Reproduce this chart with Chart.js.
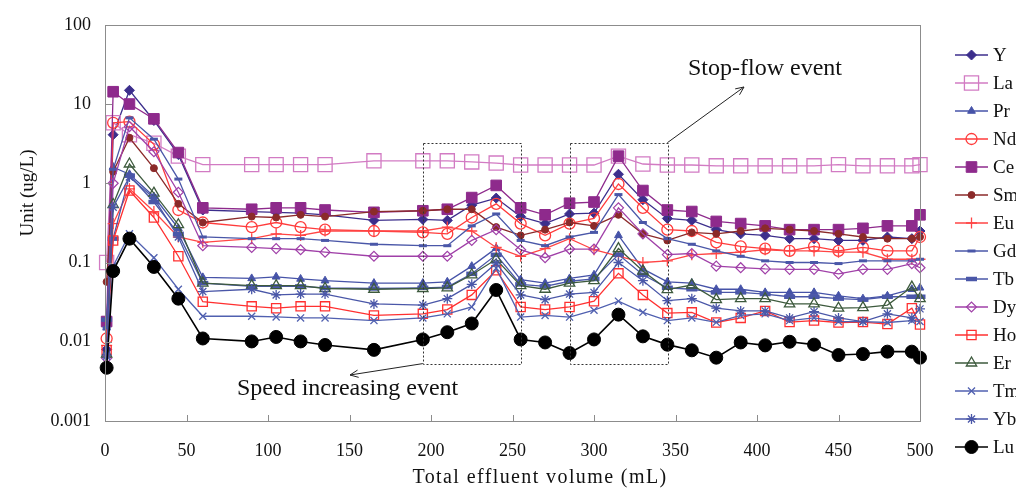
<!DOCTYPE html>
<html><head><meta charset="utf-8">
<script src="https://cdn.jsdelivr.net/npm/chart.js@4/dist/chart.umd.min.js"></script>
<style>html,body{margin:0;padding:0;background:#fff;overflow:hidden}canvas{display:block}</style>
</head><body>
<canvas id="c" width="1016" height="492"></canvas>
<script>
// ---------------- DATA ----------------
const volumes = [1,5,15,30,45,60,90,105,120,135,165,195,210,225,240,255,270,285,300,315,330,345,360,375,390,405,420,435,450,465,480,495,500];
const elements = ['Y','La','Pr','Nd','Ce','Sm','Eu','Gd','Tb','Dy','Ho','Er','Tm','Yb','Lu'];
const Y  = [0.008,4.1,14.9,6.2,2.3,0.46,0.44,0.43,0.42,0.40,0.34,0.35,0.34,0.53,0.65,0.38,0.31,0.41,0.42,1.3,0.62,0.36,0.34,0.26,0.23,0.22,0.2,0.2,0.19,0.19,0.21,0.2,0.25];
const La = [0.1,5.8,4.1,3.2,2.2,1.72,1.72,1.72,1.72,1.72,1.92,1.92,1.92,1.86,1.8,1.7,1.7,1.7,1.7,2.2,1.75,1.7,1.7,1.66,1.66,1.66,1.66,1.66,1.72,1.66,1.66,1.66,1.72];
const Pr = [0.015,1.6,1.3,0.68,0.27,0.065,0.063,0.066,0.062,0.059,0.055,0.055,0.057,0.09,0.152,0.061,0.055,0.063,0.07,0.22,0.083,0.057,0.055,0.046,0.046,0.042,0.042,0.042,0.038,0.035,0.038,0.046,0.048];
const Nd = [0.011,5.8,6.0,3.1,0.46,0.32,0.28,0.32,0.28,0.26,0.25,0.24,0.23,0.37,0.55,0.31,0.22,0.31,0.36,0.98,0.49,0.26,0.25,0.18,0.16,0.15,0.14,0.16,0.14,0.155,0.14,0.14,0.21];
const Ce = [0.018,14.3,10,6.5,2.44,0.49,0.47,0.49,0.49,0.46,0.43,0.45,0.47,0.66,0.94,0.49,0.40,0.56,0.58,2.2,0.81,0.46,0.44,0.33,0.31,0.29,0.26,0.26,0.26,0.27,0.29,0.29,0.40];
const Sm = [0.057,1.4,3.75,1.55,0.55,0.32,0.38,0.37,0.40,0.38,0.44,0.45,0.47,0.47,0.28,0.22,0.26,0.32,0.29,0.40,0.23,0.19,0.24,0.23,0.25,0.27,0.26,0.25,0.23,0.21,0.2,0.2,0.21];
const Eu = [0.009,0.31,0.85,0.44,0.21,0.18,0.2,0.23,0.22,0.25,0.25,0.25,0.28,0.25,0.155,0.12,0.15,0.2,0.145,0.12,0.1,0.105,0.125,0.13,0.135,0.145,0.14,0.14,0.135,0.135,0.11,0.11,0.11];
const Gd = [0.015,1.5,6.7,3.6,1.13,0.21,0.2,0.2,0.2,0.19,0.17,0.163,0.163,0.29,0.41,0.19,0.163,0.21,0.24,0.72,0.32,0.2,0.17,0.14,0.12,0.105,0.1,0.1,0.097,0.105,0.105,0.105,0.11];
const Tb = [0.019,0.2,1.25,0.58,0.23,0.055,0.05,0.05,0.05,0.048,0.047,0.048,0.049,0.072,0.125,0.053,0.05,0.058,0.062,0.126,0.07,0.048,0.046,0.042,0.042,0.04,0.037,0.037,0.035,0.034,0.037,0.037,0.037];
const Dy = [0.0062,1.0,5.2,2.5,0.77,0.163,0.155,0.15,0.145,0.135,0.12,0.12,0.12,0.19,0.26,0.145,0.115,0.148,0.148,0.49,0.23,0.126,0.13,0.09,0.086,0.083,0.082,0.082,0.072,0.082,0.082,0.097,0.086];
const Ho = [0.0078,0.19,0.81,0.37,0.12,0.032,0.028,0.0265,0.028,0.028,0.0215,0.0225,0.0255,0.039,0.08,0.0275,0.0255,0.0275,0.0325,0.073,0.039,0.023,0.0235,0.0175,0.02,0.0245,0.0177,0.0185,0.0175,0.0177,0.0167,0.0265,0.0165];
const Er = [0.007,0.54,1.75,0.75,0.30,0.055,0.051,0.051,0.051,0.047,0.046,0.047,0.048,0.07,0.11,0.051,0.046,0.055,0.059,0.15,0.078,0.0455,0.052,0.034,0.035,0.035,0.030,0.030,0.0265,0.027,0.029,0.049,0.035];
const Tm = [0.0065,0.09,0.23,0.115,0.046,0.021,0.021,0.0206,0.020,0.020,0.0185,0.020,0.0225,0.0275,0.085,0.0205,0.0215,0.0205,0.025,0.0325,0.0235,0.0185,0.02,0.0176,0.0215,0.0225,0.0185,0.020,0.018,0.018,0.0175,0.0185,0.018];
const Yb = [0.0068,0.5,1.2,0.65,0.21,0.043,0.046,0.039,0.040,0.040,0.030,0.029,0.035,0.053,0.098,0.039,0.034,0.04,0.042,0.1,0.059,0.033,0.035,0.0265,0.0245,0.0245,0.020,0.024,0.02,0.018,0.0225,0.02,0.026];
const Lu = [0.0047,0.078,0.2,0.088,0.035,0.011,0.0101,0.0115,0.0101,0.0091,0.0079,0.0107,0.0132,0.017,0.045,0.0107,0.0098,0.0072,0.0107,0.022,0.0117,0.0092,0.0078,0.0063,0.0098,0.009,0.01,0.0092,0.0068,0.007,0.0075,0.0075,0.0063];

const yTicks = [0.001,0.01,0.1,1,10,100];
const yTickLabels = ['0.001','0.01','0.1','1','10','100'];
const xTicks = [0,50,100,150,200,250,300,350,400,450,500];
const xTickLabels = ['0','50','100','150','200','250','300','350','400','450','500'];
const xTitle = 'Total effluent volume (mL)';
const yTitle = 'Unit (ug/L)';
const eventBoxes = [[195,255],[285,345]];   // mL ranges of the dotted boxes
const eventBoxY = [0.0053,3.25];           // ug/L range of the dotted boxes
const eventLabels = ['Speed increasing event','Stop-flow event'];

// ---------------- STYLES ----------------
const series = [Y,La,Pr,Nd,Ce,Sm,Eu,Gd,Tb,Dy,Ho,Er,Tm,Yb,Lu];
const T = 'rgba(0,0,0,0)';
const styles = [
 {c:'#3C2E8C', bg:'#3C2E8C', ps:'rectRot', r:5,   bw:1},
 {c:'#D27BC3', bg:T,         ps:'rect',    r:10,  bw:1.3},
 {c:'#4653A8', bg:'#4653A8', ps:'triangle',r:4.5, bw:1},
 {c:'#FF3B3B', bg:T,         ps:'circle',  r:5.5, bw:1.3},
 {c:'#8E2A8C', bg:'#8E2A8C', ps:'rect',    r:7.5, bw:1},
 {c:'#8B2A2A', bg:'#8B2A2A', ps:'circle',  r:3.5, bw:1},
 {c:'#FF4545', bg:'#FF4545', ps:'cross',   r:5.5, bw:1.3},
 {c:'#4A57A8', bg:'#4A57A8', ps:'line',    r:4,   bw:3},
 {c:'#4A57A8', bg:'#4A57A8', ps:'line',    r:5.5, bw:4.5},
 {c:'#A040A8', bg:T,         ps:'rectRot', r:5,   bw:1.2},
 {c:'#FF3030', bg:T,         ps:'rect',    r:6.5, bw:1.3},
 {c:'#3D5A3D', bg:T,         ps:'triangle',r:6,   bw:1.3},
 {c:'#5060B0', bg:'#5060B0', ps:'crossRot',r:5,   bw:1.3},
 {c:'#4A57A8', bg:'#4A57A8', ps:'star',    r:5,   bw:1.3},
 {c:'#000000', bg:'#000000', ps:'circle',  r:6.5, bw:1},
];
const SERIF = "'Liberation Serif','Times New Roman',serif";
Chart.defaults.font.family = SERIF;
Chart.defaults.color = '#111';

const datasets = series.map((vals,i)=>({
  label: elements[i],
  data: vals.map((v,k)=>({x:volumes[k], y:v})),
  borderColor: styles[i].c,
  backgroundColor: styles[i].bg,
  borderWidth: i===14 ? 1.6 : 1.3,
  pointStyle: styles[i].ps,
  pointRadius: styles[i].r,
  pointBorderWidth: styles[i].bw,
  pointBorderColor: styles[i].c,
  pointBackgroundColor: styles[i].bg,
  tension: 0,
  clip: false,
  order: series.length - i
}));

function drawMarker(ctx, st, x, y){
  ctx.save();
  ctx.strokeStyle = st.c; ctx.fillStyle = st.bg; ctx.lineWidth = st.bw;
  Chart.helpers.drawPoint(ctx, {pointStyle: st.ps, radius: st.r, rotation: 0, borderWidth: st.bw}, x, y);
  ctx.restore();
}

function arrow(ctx, x1,y1,x2,y2){
  ctx.beginPath(); ctx.moveTo(x1,y1); ctx.lineTo(x2,y2); ctx.stroke();
  const a = Math.atan2(y2-y1, x2-x1), L = 9, w = 0.42;
  ctx.beginPath();
  ctx.moveTo(x2 - L*Math.cos(a-w), y2 - L*Math.sin(a-w));
  ctx.lineTo(x2,y2);
  ctx.lineTo(x2 - L*Math.cos(a+w), y2 - L*Math.sin(a+w));
  ctx.stroke();
}

const overlay = {
  id:'overlay',
  afterDraw(chart){
    const {ctx, chartArea:a, scales:{x,y}} = chart;
    ctx.save();
    // frame
    ctx.strokeStyle = '#8c8c8c'; ctx.lineWidth = 1;
    ctx.strokeRect(Math.round(a.left)+0.5, Math.round(a.top)+0.5, Math.round(a.right-a.left), Math.round(a.bottom-a.top));
    // inside ticks
    ctx.beginPath();
    xTicks.forEach(v=>{ const px = Math.round(x.getPixelForValue(v))+0.5; ctx.moveTo(px,a.bottom); ctx.lineTo(px,a.bottom-6); });
    yTicks.forEach(v=>{ const py = Math.round(y.getPixelForValue(v))+0.5; ctx.moveTo(a.left,py); ctx.lineTo(a.left+7,py); });
    ctx.stroke();
    // dotted event boxes
    ctx.strokeStyle = '#333'; ctx.lineWidth = 1; ctx.setLineDash([2,2]);
    const bt = y.getPixelForValue(eventBoxY[1]), bb = y.getPixelForValue(eventBoxY[0]);
    const boxes = eventBoxes.map(([l,r])=>({l:x.getPixelForValue(l), r:x.getPixelForValue(r)}));
    boxes.forEach(b=>ctx.strokeRect(Math.round(b.l)+0.5, Math.round(bt)+0.5, Math.round(b.r-b.l), Math.round(bb-bt)));
    ctx.setLineDash([]);
    // arrows
    ctx.strokeStyle = '#222'; ctx.lineWidth = 1;
    arrow(ctx, boxes[0].l, bb, 350, 375);
    arrow(ctx, boxes[1].r, bt, 744, 87);
    // annotation texts
    ctx.fillStyle = '#111';
    ctx.font = '24px ' + SERIF;
    ctx.textBaseline = 'middle'; ctx.textAlign = 'left';
    ctx.fillText(eventLabels[0], 237, 389);
    ctx.fillText(eventLabels[1], 688, 69);
    // axis titles
    ctx.font = '20px ' + SERIF;
    try { ctx.letterSpacing = '1.4px'; } catch(e){}
    ctx.textAlign = 'center';
    ctx.fillText(xTitle, 540, 478);
    try { ctx.letterSpacing = '0px'; } catch(e){}
    ctx.save();
    ctx.translate(28, 193); ctx.rotate(-Math.PI/2);
    ctx.font = '19px ' + SERIF;
    ctx.fillText(yTitle, 0, 0);
    ctx.restore();
    // legend
    ctx.font = '19px ' + SERIF; ctx.textAlign = 'left'; ctx.textBaseline = 'middle';
    elements.forEach((name,i)=>{
      const ly = 55 + i*28;
      const st = styles[i];
      ctx.strokeStyle = st.c; ctx.lineWidth = i===14 ? 1.6 : 1.3;
      ctx.beginPath(); ctx.moveTo(955, ly); ctx.lineTo(988, ly); ctx.stroke();
      drawMarker(ctx, st, 971.5, ly);
      ctx.fillStyle = '#111';
      ctx.fillText(name, 993, ly+1);
    });
    ctx.restore();
  }
};

new Chart(document.getElementById('c'), {
  type: 'line',
  data: { datasets },
  options: {
    responsive: false,
    animation: false,
    devicePixelRatio: 1,
    layout: { padding: { top: 19, right: 96, left: 0, bottom: 0 } },
    plugins: { legend: { display: false }, tooltip: { enabled: false } },
    scales: {
      x: {
        type: 'linear', min: 0, max: 500,
        grid: { display: false, drawTicks: false },
        border: { display: false },
        afterFit: s => { s.height = 71; },
        afterBuildTicks: s => { s.ticks = xTicks.map(v=>({value:v})); },
        ticks: { autoSkip: false, maxRotation: 0, padding: 19, font: { size: 18 }, color: '#111',
                 callback: v => xTickLabels[xTicks.indexOf(v)] ?? '' }
      },
      y: {
        type: 'logarithmic', min: 0.001, max: 100,
        grid: { display: false, drawTicks: false },
        border: { display: false },
        afterFit: s => { s.width = 105; },
        afterBuildTicks: s => { s.ticks = yTicks.map(v=>({value:v})); },
        ticks: { autoSkip: false, padding: 14, font: { size: 18 }, color: '#111',
                 callback: v => yTickLabels[yTicks.indexOf(v)] ?? '' }
      }
    }
  },
  plugins: [overlay]
});
</script>
</body></html>
